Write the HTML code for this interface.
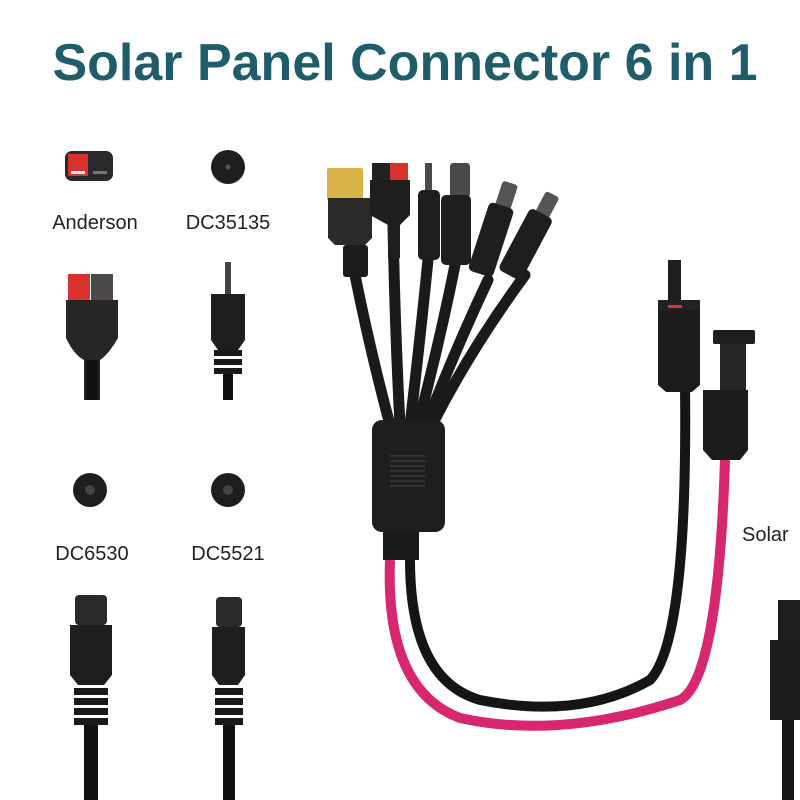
<!DOCTYPE html>
<html><head><meta charset="utf-8"><style>
html,body{margin:0;padding:0;background:#fff;}
svg{display:block}
</style></head><body>
<svg width="800" height="800" viewBox="0 0 800 800" xmlns="http://www.w3.org/2000/svg">
<rect width="800" height="800" fill="#fff"/>
<text x="405" y="80" text-anchor="middle" font-family="Liberation Sans, sans-serif" font-weight="bold" font-size="52" fill="#1f5d6b">Solar Panel Connector 6 in 1</text>

<g font-family="Liberation Sans, sans-serif" font-size="20" fill="#222" text-anchor="middle">
<text x="95" y="229">Anderson</text>
<text x="228" y="229">DC35135</text>
<text x="92" y="560">DC6530</text>
<text x="228" y="560">DC5521</text>
<text x="742" y="541" text-anchor="start">Solar</text>
</g>

<rect x="65" y="151" width="48" height="30" rx="7" fill="#2a2a2a"/>
<rect x="68" y="154" width="20" height="22" fill="#d8322f"/>
<rect x="71" y="171" width="14" height="3" fill="#eee"/>
<rect x="93" y="171" width="14" height="3" fill="#777"/>
<circle cx="228" cy="167" r="17" fill="#1e1e1e"/><circle cx="228" cy="167" r="2.5" fill="#555"/>
<circle cx="90" cy="490" r="17" fill="#1e1e1e"/><circle cx="90" cy="490" r="5" fill="#444"/>
<circle cx="228" cy="490" r="17" fill="#1e1e1e"/><circle cx="228" cy="490" r="5" fill="#444"/>

<rect x="68" y="274" width="22" height="26" fill="#d8322f"/>
<rect x="91" y="274" width="22" height="26" fill="#4a4a4a"/>
<path d="M66 300 L118 300 L118 338 Q108 355 100 360 L100 400 L84 400 L84 360 Q74 355 66 338 Z" fill="#262626"/>
<rect x="86" y="360" width="12" height="40" fill="#111"/>
<rect x="225" y="262" width="6" height="32" fill="#444"/>
<path d="M211 294 L245 294 L245 340 L238 350 L218 350 L211 340 Z" fill="#1e1e1e"/>
<g fill="#1a1a1a"><rect x="214" y="350" width="28" height="6"/><rect x="214" y="359" width="28" height="6"/><rect x="214" y="368" width="28" height="6"/></g>
<rect x="223" y="374" width="10" height="26" fill="#111"/>
<rect x="75" y="595" width="32" height="30" rx="4" fill="#2a2a2a"/>
<path d="M70 625 L112 625 L112 675 L104 685 L78 685 L70 675 Z" fill="#1e1e1e"/>
<g fill="#1a1a1a"><rect x="74" y="688" width="34" height="7"/><rect x="74" y="698" width="34" height="7"/><rect x="74" y="708" width="34" height="7"/><rect x="74" y="718" width="34" height="7"/></g>
<rect x="84" y="725" width="14" height="75" fill="#111"/>
<rect x="216" y="597" width="26" height="30" rx="4" fill="#2a2a2a"/>
<path d="M212 627 L245 627 L245 675 L238 685 L219 685 L212 675 Z" fill="#1e1e1e"/>
<g fill="#1a1a1a"><rect x="215" y="688" width="28" height="7"/><rect x="215" y="698" width="28" height="7"/><rect x="215" y="708" width="28" height="7"/><rect x="215" y="718" width="28" height="7"/></g>
<rect x="223" y="725" width="12" height="75" fill="#111"/>

<g fill="none" stroke="#1a1a1a" stroke-width="11" stroke-linecap="round">
<path d="M355 275 Q370 350 390 425"/>
<path d="M393 225 Q395 330 400 425"/>
<path d="M428 260 Q420 340 410 425"/>
<path d="M455 265 Q440 340 418 425"/>
<path d="M488 280 Q455 350 426 425"/>
<path d="M525 275 Q470 350 432 425"/>
</g>
<rect x="327" y="168" width="36" height="32" rx="2" fill="#d9b24a"/>
<path d="M328 198 L372 198 L372 238 L365 245 L335 245 L328 238 Z" fill="#2a2a2a"/>
<rect x="343" y="245" width="25" height="32" rx="3" fill="#1c1c1c"/>
<rect x="372" y="163" width="18" height="18" fill="#222"/>
<rect x="390" y="163" width="18" height="18" fill="#d8322f"/>
<path d="M370 180 L410 180 L410 215 L400 225 L400 258 L388 258 L388 225 L370 215 Z" fill="#1e1e1e"/>
<rect x="425" y="163" width="7" height="28" fill="#4a4a4a"/>
<rect x="418" y="190" width="22" height="70" rx="5" fill="#1e1e1e"/>
<rect x="450" y="163" width="20" height="34" rx="3" fill="#4a4a4a"/>
<rect x="441" y="195" width="30" height="70" rx="5" fill="#1e1e1e"/>
<g transform="rotate(18 492 240)"><rect x="484" y="180" width="16" height="26" rx="3" fill="#555"/><rect x="478" y="204" width="26" height="72" rx="5" fill="#1e1e1e"/></g>
<g transform="rotate(28 528 240)"><rect x="521" y="188" width="15" height="24" rx="3" fill="#555"/><rect x="515" y="210" width="26" height="70" rx="5" fill="#1e1e1e"/></g>

<rect x="372" y="420" width="73" height="112" rx="10" fill="#1e1e1e"/>
<g fill="#333"><rect x="390" y="455" width="35" height="2"/><rect x="390" y="460" width="35" height="2"/><rect x="390" y="465" width="35" height="2"/><rect x="390" y="470" width="35" height="2"/><rect x="390" y="475" width="35" height="2"/><rect x="390" y="480" width="35" height="2"/><rect x="390" y="485" width="35" height="2"/></g>
<rect x="383" y="532" width="36" height="28" fill="#1a1a1a"/>

<path d="M390 560 Q385 690 460 718 Q560 740 680 700 Q718 680 725 460" fill="none" stroke="#d6276f" stroke-width="10"/>
<path d="M410 560 Q410 680 480 700 Q580 720 650 680 Q688 640 685 385" fill="none" stroke="#151515" stroke-width="10"/>

<rect x="668" y="260" width="13" height="45" fill="#1e1e1e"/>
<rect x="658" y="300" width="42" height="10" fill="#222"/>
<rect x="668" y="305" width="14" height="3" fill="#d8322f"/>
<path d="M658 310 L700 310 L700 385 L692 392 L666 392 L658 385 Z" fill="#1c1c1c"/>
<rect x="713" y="330" width="42" height="14" rx="2" fill="#1e1e1e"/>
<rect x="720" y="344" width="26" height="50" fill="#252525"/>
<path d="M703 390 L748 390 L748 450 L740 460 L712 460 L703 450 Z" fill="#1c1c1c"/>
<rect x="778" y="600" width="22" height="40" fill="#1e1e1e"/>
<rect x="770" y="640" width="30" height="80" fill="#1c1c1c"/>
<rect x="782" y="720" width="12" height="80" fill="#151515"/>
</svg>
</body></html>
